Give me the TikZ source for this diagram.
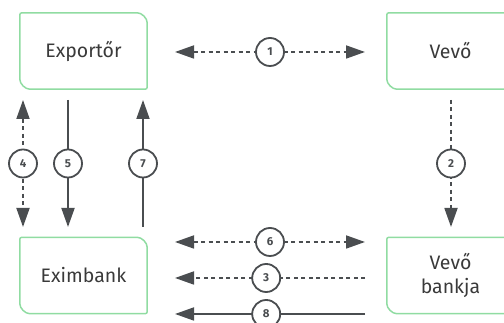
\documentclass[tikz,border=0pt]{standalone}
\usepackage{fontspec}
\setmainfont{Fira Sans}
\usetikzlibrary{arrows.meta}
\definecolor{boxgreen}{HTML}{90DCA2}
\definecolor{ink}{HTML}{3A3A3A}
\definecolor{linec}{HTML}{4A4D50}
\tikzset{
  box/.style={minimum width=127pt, minimum height=76pt, inner sep=0pt, font=\fontsize{19.5}{24}\selectfont, text=ink, align=center},
  frame/.style={draw=boxgreen, line width=1.5pt, rounded corners=2pt},
  num/.style={circle, draw=linec, line width=1.8pt, fill=white, minimum size=28pt, inner sep=0pt, font=\fontsize{11.5}{13}\selectfont\bfseries, text=linec},
  mytri/.tip={Triangle[length=19pt,width=13pt]},
  conn/.style={draw=linec, line width=1.8pt},
  dsh/.style={dash pattern=on 4pt off 3.5pt},
}
\newcommand{\frameit}[1]{\draw[frame] (#1.north west) -- ([xshift=-12pt]#1.north east) arc[start angle=90,end angle=0,radius=12pt] -- (#1.south east) -- ([xshift=12pt]#1.south west) arc[start angle=270,end angle=180,radius=12pt] -- cycle;}
\begin{document}
\begin{tikzpicture}[x=1pt,y=1pt]
\useasboundingbox (0,0) rectangle (504,323);
\clip (0,0) rectangle (504,323);
% boxes
\node[box] (exp) at (83.5,272) {Exportőr};
\node[box] (vevo) at (450.5,272) {Vevő};
\node[box] (exim) at (83.5,47.5) {Eximbank};
\node[box] (bank) at (450.5,47.5) {Vevő\\bankja};
\frameit{exp}
\frameit{vevo}
\frameit{exim}
\frameit{bank}
% connector ends
\coordinate (a1) at (175,271);
\coordinate (b1) at (365,271);
\coordinate (a2) at (451,223);
\coordinate (b2) at (451,96);
\coordinate (a4) at (23,223);
\coordinate (b4) at (23,96);
\coordinate (a5) at (68,223);
\coordinate (b5) at (68,96);
\coordinate (a7) at (143,96);
\coordinate (b7) at (143,223);
\coordinate (a6) at (175,81);
\coordinate (b6) at (365,81);
\coordinate (a3) at (365,45);
\coordinate (b3) at (175,45);
\coordinate (a8) at (365,9);
\coordinate (b8) at (175,9);
% connectors
\draw[conn,dsh,mytri-mytri] (a1) -- node[num,solid]{1} (b1);
\draw[conn,dsh,-mytri] (a2) -- node[num,solid]{2} (b2);
\draw[conn,dsh,mytri-mytri] (a4) -- node[num,solid]{4} (b4);
\draw[conn,-mytri] (a5) -- node[num]{5} (b5);
\draw[conn,-mytri] (a7) -- node[num]{7} (b7);
\draw[conn,dsh,mytri-mytri] (a6) -- node[num,solid]{6} (b6);
\draw[conn,dsh,-mytri] (a3) -- node[num,solid,pos=0.52]{3} (b3);
\draw[conn,-mytri] (a8) -- node[num,pos=0.52]{8} (b8);
\end{tikzpicture}
\end{document}
